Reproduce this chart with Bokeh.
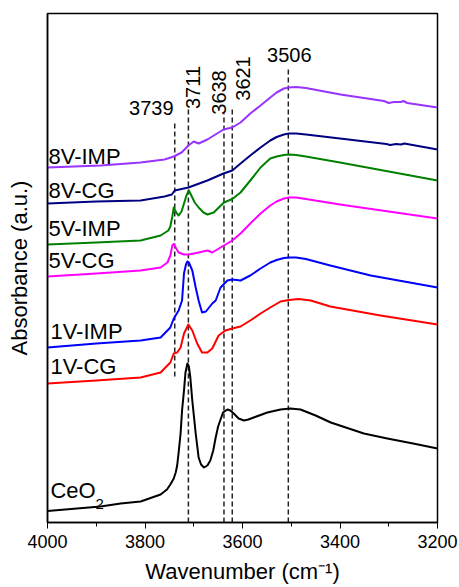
import math
from bokeh.plotting import figure
from bokeh.models import Range1d, SingleIntervalTicker, FixedTicker, Label
from bokeh.embed import file_html
from bokeh.resources import INLINE

# ---------------- data (wavenumber, absorbance in arbitrary stacked units) ----------------
wn_8v_imp = [4000, 3891, 3809, 3760, 3741, 3725, 3711, 3700, 3690, 3672, 3639, 3621, 3604,
             3584, 3563, 3543, 3530, 3515, 3505, 3490, 3470, 3399, 3310, 3300, 3290, 3275,
             3270, 3262, 3200]
ab_8v_imp = [355, 357, 360, 363, 366, 370, 377, 381, 379, 383, 393, 395, 400,
             409, 417, 425, 430, 434, 435, 435.5, 434.5, 428, 421.5, 419.5, 420.5, 420.5,
             421.5, 419.5, 415]

wn_8v_cg = [4000, 3900, 3809, 3760, 3745, 3739, 3711, 3672, 3639, 3621, 3604, 3584, 3563,
            3543, 3530, 3515, 3505, 3490, 3470, 3400, 3305, 3297, 3285, 3275, 3268, 3200]
ab_8v_cg = [319, 321, 322, 326, 328, 332, 335, 342, 349, 352, 359, 367, 375,
            382, 385.5, 388, 389, 389, 388, 384, 378.5, 377.5, 378.5, 378, 379, 373]

wn_5v_imp = [4000, 3900, 3809, 3768, 3752, 3748, 3744, 3741, 3736, 3731, 3725, 3720, 3715,
             3710, 3704, 3698, 3690, 3680, 3672, 3659, 3638, 3621, 3604, 3584, 3563, 3543,
             3530, 3515, 3505, 3490, 3470, 3400, 3300, 3200]
ab_5v_imp = [278, 280, 282, 287, 292, 296, 306, 315, 310, 307, 311, 319, 327,
             332, 326, 320, 315, 310, 308, 310, 320, 323.5, 330, 342, 355, 364,
             366, 367.5, 368, 367.5, 366, 360, 351, 342]

wn_5v_cg = [4000, 3900, 3809, 3768, 3754, 3748, 3744, 3741, 3736, 3731, 3720, 3710, 3690,
            3672, 3662, 3645, 3621, 3604, 3584, 3563, 3543, 3530, 3515, 3505, 3490, 3470,
            3400, 3300, 3200]
ab_5v_cg = [246, 249, 252, 255, 260, 267, 277, 278.5, 274, 270, 268, 268, 270,
            272, 270, 275, 282, 289, 299, 309, 317, 321, 324, 325, 325, 323.5,
            318, 311, 304]

wn_1v_imp = [4000, 3900, 3809, 3768, 3748, 3741, 3731, 3724, 3720, 3716, 3713, 3710, 3703,
             3696, 3690, 3683, 3675, 3662, 3655, 3645, 3631, 3621, 3604, 3584, 3563, 3543,
             3530, 3515, 3505, 3490, 3470, 3420, 3337, 3200]
ab_1v_imp = [175, 179, 182, 185, 195, 204, 212, 222, 249, 258, 261, 260, 252,
             235, 222, 210, 211, 219, 222, 235, 242, 243, 242, 247, 254, 260,
             262.5, 264.5, 265, 265, 263.5, 257, 247, 235]

wn_1v_cg = [4000, 3900, 3809, 3768, 3748, 3741, 3734, 3727, 3720, 3711, 3703, 3693, 3683,
            3672, 3662, 3649, 3635, 3621, 3604, 3584, 3563, 3543, 3522, 3505, 3485, 3460,
            3420, 3317, 3200]
ab_1v_cg = [139, 142, 145, 150, 160, 169, 170, 175, 189, 198, 192, 179, 170,
            170, 174, 187, 192, 194, 196, 202, 209, 215, 221, 222.5, 223.5, 222,
            216, 207, 198]

wn_ceo2 = [4000, 3891, 3850, 3809, 3768, 3755, 3748, 3741, 3737, 3734, 3731, 3727, 3724,
           3720, 3717, 3713, 3710, 3707, 3703, 3696, 3690, 3685, 3679, 3672, 3666, 3660,
           3655, 3650, 3640, 3631, 3625, 3618, 3608, 3597, 3588, 3577, 3549, 3522, 3502,
           3481, 3450, 3419, 3351, 3303, 3250, 3200]
ab_ceo2 = [11.5, 16, 19, 21, 28, 33, 38, 44, 50, 57, 70, 89, 112,
           132, 150, 159, 156, 145, 122, 89, 65, 58, 55, 57, 62, 72,
           85, 96, 110, 113, 112, 109, 104, 102, 103, 105, 110, 113, 114,
           113, 107, 100, 89, 84, 79, 74]

names = ["8V-IMP", "8V-CG", "5V-IMP", "5V-CG", "1V-IMP", "1V-CG", "CeO2"]
colors = ["#9933FF", "#000080", "#008000", "#FF00FF", "#0000FF", "#FF0000", "#000000"]
wns = [wn_8v_imp, wn_8v_cg, wn_5v_imp, wn_5v_cg, wn_1v_imp, wn_1v_cg, wn_ceo2]
abs_ = [ab_8v_imp, ab_8v_cg, ab_5v_imp, ab_5v_cg, ab_1v_imp, ab_1v_cg, ab_ceo2]

peaks = [3739, 3711, 3638, 3621, 3506]
peak_labels = ["3739", "3711", "3638", "3621", "3506"]

# layout of annotations (positions in data units)
line_top = [399, 414, 409, 414, 454]
line_bottom = [146, 0, 0, 0, 0]
peak_lab_x = [3787, 3702, 3649, 3600, 3504]
peak_lab_y = [415, 435, 430, 444, 468]
peak_lab_rot = [0, 1, 1, 1, 0]

name_x = [3998, 3998, 3998, 3998, 3994, 3994, 3994]
name_y = [366, 332, 294, 262, 191, 156, 32]

FONT = "Liberation Sans"

p = figure(width=459, height=587, output_backend="svg", toolbar_location=None,
           x_range=Range1d(4000, 3200), y_range=Range1d(0, 509),
           min_border_left=47, min_border_right=22, min_border_top=13, min_border_bottom=65)
p.grid.visible = False
p.background_fill_color = "white"
p.border_fill_color = "white"
p.outline_line_color = "black"
p.outline_line_width = 1.5
p.outline_line_alpha = 1

ax = p.xaxis[0]
ax.ticker = SingleIntervalTicker(interval=200, num_minor_ticks=2)
ax.major_tick_in = 0
ax.major_tick_out = 6
ax.minor_tick_in = 0
ax.minor_tick_out = 4
ax.major_tick_line_color = "black"
ax.minor_tick_line_color = "black"
ax.axis_line_color = "black"
ax.axis_line_width = 1.5
ax.major_label_text_font = FONT
ax.major_label_text_font_size = "18px"
ax.major_label_text_color = "black"
ax.major_label_standoff = 6
ax.axis_label = "Wavenumber (cm\u207b\u00b9)"
ax.axis_label_text_font = FONT
ax.axis_label_text_font_size = "22px"
ax.axis_label_text_font_style = "normal"
ax.axis_label_text_color = "black"
ax.axis_label_standoff = 8

ay = p.yaxis[0]
ay.ticker = FixedTicker(ticks=[])
ay.major_label_text_font_size = "0px"
ay.major_tick_out = 0
ay.minor_tick_out = 0
ay.major_label_standoff = 0
ay.axis_line_color = "black"
ay.axis_line_width = 1.5
ay.axis_label = "Absorbance (a.u.)"
ay.axis_label_text_font = FONT
ay.axis_label_text_font_size = "22px"
ay.axis_label_text_font_style = "normal"
ay.axis_label_text_color = "black"
ay.axis_label_standoff = 16

# dashed reference lines
for pk, t, b in zip(peaks, line_top, line_bottom):
    p.line([pk, pk], [b, t], line_color="#222222", line_width=1.5, line_dash="5 3")

# spectra
for wn, ab, c in zip(wns, abs_, colors):
    p.line(wn, ab, line_color=c, line_width=2, line_join="round")

# peak labels
for lab, x, y, r in zip(peak_labels, peak_lab_x, peak_lab_y, peak_lab_rot):
    p.add_layout(Label(x=x, y=y, text=lab, text_font=FONT, text_font_size="20px",
                       text_color="black", text_align="center", text_baseline="middle",
                       angle=(math.pi / 2) * r))

# sample labels
for nm, x, y in zip(names, name_x, name_y):
    if nm == "CeO2":
        p.add_layout(Label(x=x, y=y, text="CeO", text_font=FONT, text_font_size="22px",
                           text_color="black", text_align="left", text_baseline="middle"))
        p.add_layout(Label(x=x, y=y, x_offset=45, y_offset=-13, text="2", text_font=FONT,
                           text_font_size="15px", text_color="black", text_align="left",
                           text_baseline="middle"))
    else:
        p.add_layout(Label(x=x, y=y, text=nm, text_font=FONT, text_font_size="22px",
                           text_color="black", text_align="left", text_baseline="middle"))

open("out.html", "w").write(file_html(p, INLINE))
